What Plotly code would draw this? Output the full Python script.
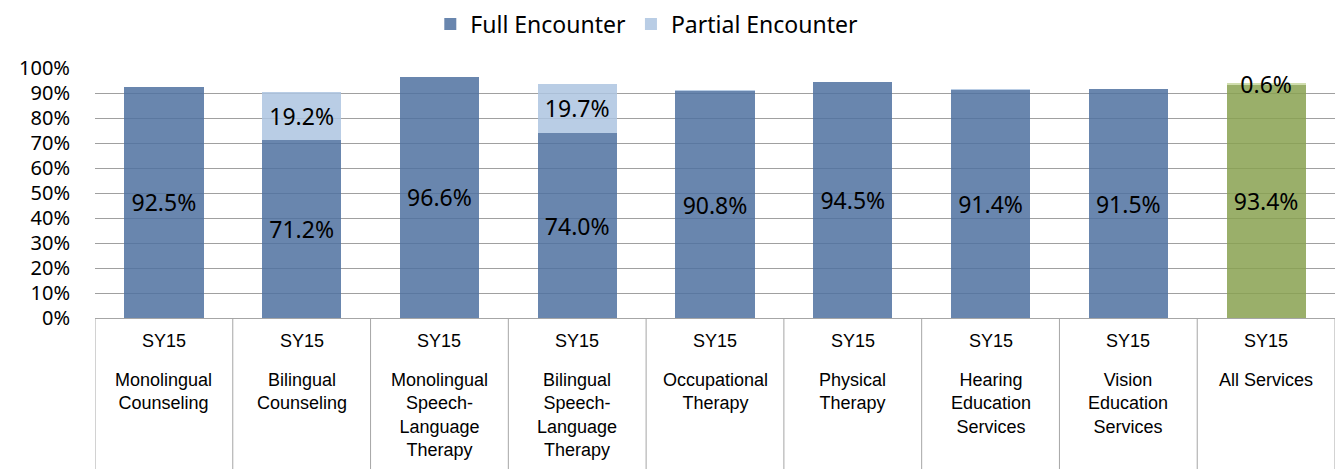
import plotly.graph_objects as go

periods = ["SY15"] * 9
services = [
    "Monolingual<br>Counseling",
    "Bilingual<br>Counseling",
    "Monolingual<br>Speech-<br>Language<br>Therapy",
    "Bilingual<br>Speech-<br>Language<br>Therapy",
    "Occupational<br>Therapy",
    "Physical<br>Therapy",
    "Hearing<br>Education<br>Services",
    "Vision<br>Education<br>Services",
    "All Services",
]
full_vals = [92.5, 71.2, 96.6, 74.0, 90.8, 94.5, 91.4, 91.5, 93.4]
partial_vals = [0.0, 19.2, 0.0, 19.7, 0.3, 0.0, 0.2, 0.2, 0.6]
partial_labels = ["", "19.2%", "", "19.7%", "", "", "", "", "0.6%"]

x = list(range(len(services)))

blue = "rgba(79,113,160,0.85)"
green = "rgba(136,161,80,0.85)"
light = "rgba(173,196,224,0.85)"
lightgreen = "rgba(200,215,160,0.85)"

full_colors = [blue] * 8 + [green]
partial_colors = [light] * 8 + [lightgreen]

label_font = dict(family="Noto Sans, Open Sans, sans-serif", size=23, color="#000000")

fig = go.Figure()
fig.add_trace(go.Bar(
    x=x, y=full_vals, name="Full Encounter",
    marker=dict(color=full_colors, line=dict(width=0)),
    text=[f"{v:.1f}%" for v in full_vals], textposition="inside",
    insidetextanchor="middle", textfont=label_font, textangle=0,
    constraintext="none",
))
fig.add_trace(go.Bar(
    x=x, y=partial_vals, name="Partial Encounter",
    marker=dict(color=partial_colors, line=dict(width=0)),
    text=partial_labels, textposition="inside",
    insidetextanchor="middle", textfont=label_font, textangle=0,
    constraintext="none", cliponaxis=False,
))

# category box lines
shapes = []
for i in range(len(services) + 1):
    shapes.append(dict(type="line", xref="x", yref="paper",
                       x0=i - 0.5, x1=i - 0.5, y0=0, y1=-0.62,
                       line=dict(color="#a6a6a6", width=1)))

annotations = []
cat_font = dict(family="Liberation Sans, Arial, sans-serif", size=18, color="#000000")
for i, (p, s) in enumerate(zip(periods, services)):
    annotations.append(dict(x=i, y=-0.092, xref="x", yref="paper", text=p,
                            showarrow=False, font=cat_font, yanchor="middle",
                            xanchor="center"))
    annotations.append(dict(x=i, y=-0.2, xref="x", yref="paper", text=s,
                            showarrow=False, font=cat_font, yanchor="top",
                            xanchor="center", align="center"))

fig.update_layout(
    width=1343, height=469,
    margin=dict(l=87, r=16, t=60, b=159, autoexpand=False),
    paper_bgcolor="white", plot_bgcolor="white",
    barmode="stack", bargap=0.425,
    shapes=shapes, annotations=annotations,
    showlegend=True,
    legend=dict(orientation="h", x=0.445, xanchor="center", y=1.262, yanchor="top",
                font=dict(family="Noto Sans, Open Sans, sans-serif", size=23, color="#000000"),
                traceorder="normal", itemwidth=30, tracegroupgap=0),
    xaxis=dict(range=[-0.5, 8.5], showticklabels=False, showgrid=False,
               showline=True, linecolor="#a6a6a6", linewidth=1, zeroline=False,
               fixedrange=True, automargin=False),
    yaxis=dict(range=[0, 100], tickvals=list(range(0, 101, 10)),
               ticktext=[f"{v}%" for v in range(0, 101, 10)],
               showgrid=True, gridcolor="#a0a0a0", gridwidth=1,
               zeroline=False, showline=False, automargin=False,
               tickfont=dict(family="Noto Sans, Open Sans, sans-serif", size=20, color="#000000"),
               ticklabelstandoff=24),
)

fig.write_html("out.html")
